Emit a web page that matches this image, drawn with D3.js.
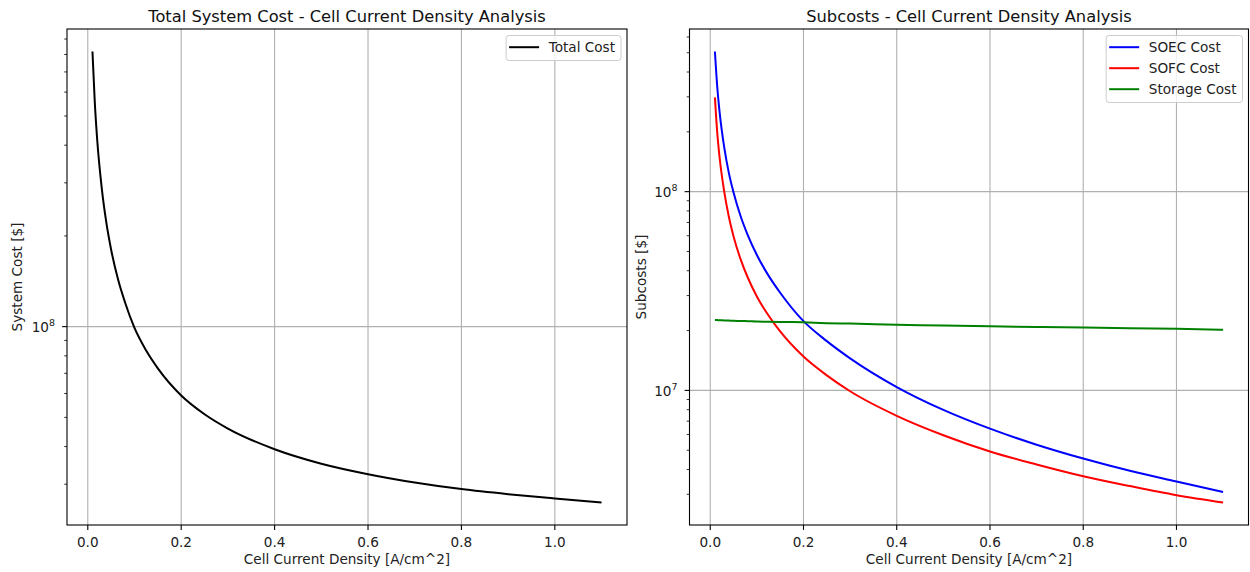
<!DOCTYPE html>
<html>
<head>
<meta charset="utf-8">
<script src="https://cdn.jsdelivr.net/npm/d3@7"></script>
<style>
  html, body { margin: 0; padding: 0; background: #fff; }
  svg { display: block; font-family: "DejaVu Sans", sans-serif; }
</style>
</head>
<body>
<svg id="fig" width="1250" height="572"></svg>
<script>
// Cell current density samples [A/cm^2]
const currentDensity = [0.01, 0.015, 0.02, 0.03, 0.04, 0.05, 0.065, 0.08, 0.1, 0.125, 0.15,
                        0.2, 0.25, 0.3, 0.4, 0.5, 0.6, 0.7, 0.8, 0.9, 1.0, 1.1];

// Total system cost [$]
const totalCost = [8.18e8, 5.55e8, 4.2e8, 2.87e8, 2.2e8, 1.8e8, 1.43e8, 1.2e8, 9.9e7, 8.33e7, 7.27e7,
                   5.91e7, 5.12e7, 4.59e7, 3.92e7, 3.51e7, 3.24e7, 3.04e7, 2.89e7, 2.78e7, 2.69e7, 2.61e7];

// Subcosts [$]
const soecCost = [5.07e8, 3.37e8, 2.52e8, 1.67e8, 1.24e8, 9.9e7, 7.54e7, 6.08e7, 4.8e7, 3.78e7, 3.1e7,
                  2.23e7, 1.77e7, 1.45e7, 1.04e7, 7.98e6, 6.42e6, 5.33e6, 4.54e6, 3.94e6, 3.48e6, 3.08e6];
const sofcCost = [2.98e8, 1.98e8, 1.49e8, 1.0e8, 7.45e7, 5.95e7, 4.58e7, 3.72e7, 2.97e7, 2.38e7, 1.98e7,
                  1.48e7, 1.19e7, 9.9e6, 7.45e6, 5.95e6, 4.93e6, 4.24e6, 3.7e6, 3.3e6, 2.97e6, 2.73e6];
const storageCost = [2.26e7, 2.258e7, 2.256e7, 2.25e7, 2.245e7, 2.24e7, 2.235e7, 2.23e7, 2.22e7, 2.215e7, 2.21e7,
                     2.2e7, 2.18e7, 2.17e7, 2.14e7, 2.12e7, 2.1e7, 2.085e7, 2.07e7, 2.055e7, 2.04e7, 2.02e7];

const xTickValues = [0.0, 0.2, 0.4, 0.6, 0.8, 1.0];

const FONT = 13.6;
const TITLE_FONT = 16.3;
const GRID = "#b0b0b0";

const svg = d3.select("#fig");
svg.append("rect").attr("width", 1250).attr("height", 572).attr("fill", "#fff");

// Padded domain in the style of matplotlib autoscaling (5% margins)
function padLinear(vals) {
  const [lo, hi] = d3.extent(vals);
  const m = (hi - lo) * 0.05;
  return [lo - m, hi + m];
}
function padLog(vals) {
  const lo = Math.log10(d3.min(vals)), hi = Math.log10(d3.max(vals));
  const m = (hi - lo) * 0.05;
  return [Math.pow(10, lo - m), Math.pow(10, hi + m)];
}

function drawPanel(cfg) {
  const { left, right, top, bottom, series, title, ylabel } = cfg;
  const g = svg.append("g");

  const x = d3.scaleLinear().domain(padLinear(currentDensity)).range([left, right]);
  const allY = series.flatMap(s => s.values);
  const y = d3.scaleLog().domain(padLog(allY)).range([bottom, top]);

  const [y0, y1] = y.domain();
  const majors = [], minors = [];
  for (let e = Math.floor(Math.log10(y0)); e <= Math.ceil(Math.log10(y1)); e++) {
    for (let k = 1; k <= 9; k++) {
      const v = k * Math.pow(10, e);
      if (v < y0 || v > y1) continue;
      (k === 1 ? majors : minors).push({ v, e });
    }
  }

  // grid
  const grid = g.append("g").attr("stroke", GRID).attr("stroke-width", 1.1);
  xTickValues.forEach(t => {
    grid.append("line").attr("x1", x(t)).attr("x2", x(t)).attr("y1", top).attr("y2", bottom);
  });
  majors.forEach(t => {
    grid.append("line").attr("x1", left).attr("x2", right).attr("y1", y(t.v)).attr("y2", y(t.v));
  });

  // series lines
  const line = d3.line()
    .x((d, i) => x(currentDensity[i]))
    .y(d => y(d))
    .curve(d3.curveMonotoneX);
  series.forEach(s => {
    g.append("path").datum(s.values)
      .attr("d", line)
      .attr("fill", "none")
      .attr("stroke", s.color)
      .attr("stroke-width", 2.0)
      .attr("stroke-linejoin", "round")
      .attr("stroke-linecap", "butt");
  });

  // frame
  g.append("rect").attr("x", left).attr("y", top)
    .attr("width", right - left).attr("height", bottom - top)
    .attr("fill", "none").attr("stroke", "#000").attr("stroke-width", 1.1);

  // x ticks
  const xt = g.append("g");
  xTickValues.forEach(t => {
    xt.append("line").attr("x1", x(t)).attr("x2", x(t)).attr("y1", bottom).attr("y2", bottom + 4.9)
      .attr("stroke", "#000").attr("stroke-width", 1.1);
    xt.append("text").attr("x", x(t)).attr("y", bottom + 22)
      .attr("text-anchor", "middle").attr("font-size", FONT).attr("fill", "#222")
      .text(d3.format(".1f")(t));
  });

  // y ticks
  const yt = g.append("g");
  minors.forEach(t => {
    yt.append("line").attr("x1", left - 2.8).attr("x2", left).attr("y1", y(t.v)).attr("y2", y(t.v))
      .attr("stroke", "#000").attr("stroke-width", 0.8);
  });
  majors.forEach(t => {
    yt.append("line").attr("x1", left - 4.9).attr("x2", left).attr("y1", y(t.v)).attr("y2", y(t.v))
      .attr("stroke", "#000").attr("stroke-width", 1.1);
    const lab = yt.append("text").attr("x", left - 12).attr("y", y(t.v) + 5.5)
      .attr("text-anchor", "end").attr("font-size", FONT).attr("fill", "#222");
    lab.append("tspan").text("10");
    lab.append("tspan").attr("font-size", 9.5).attr("dy", -6).text(String(t.e));
  });

  // labels
  g.append("text").attr("x", (left + right) / 2).attr("y", 21.5)
    .attr("text-anchor", "middle").attr("font-size", TITLE_FONT).attr("fill", "#111").text(title);
  g.append("text").attr("x", (left + right) / 2).attr("y", 564)
    .attr("text-anchor", "middle").attr("font-size", FONT).attr("fill", "#222")
    .text("Cell Current Density [A/cm^2]");
  g.append("text")
    .attr("transform", `translate(${cfg.ylabelX},${(top + bottom) / 2}) rotate(-90)`)
    .attr("text-anchor", "middle").attr("font-size", FONT).attr("fill", "#222").text(ylabel);

  // legend
  const lg = g.append("g");
  const box = lg.append("rect").attr("fill", "#fff").attr("fill-opacity", 0.8)
    .attr("stroke", "#cccccc").attr("stroke-width", 1).attr("rx", 3);
  let maxW = 0;
  const rowH = 21;
  const texts = series.map((s, i) => {
    const t = lg.append("text").attr("font-size", FONT).attr("fill", "#222")
      .attr("y", 12 + i * rowH + 5).text(s.name);
    maxW = Math.max(maxW, t.node().getComputedTextLength());
    return t;
  });
  const w = 42.6 + maxW + 6;
  const h = 25 + rowH * (series.length - 1);
  const bx = right - 6 - w, by = top + 6.5;
  box.attr("x", bx).attr("y", by).attr("width", w).attr("height", h);
  series.forEach((s, i) => {
    const cy = by + 11.7 + i * rowH;
    lg.append("line").attr("x1", bx + 3).attr("x2", bx + 33).attr("y1", cy).attr("y2", cy)
      .attr("stroke", s.color).attr("stroke-width", 2.0);
    texts[i].attr("x", bx + 42.6).attr("y", cy + 5);
  });
}

drawPanel({
  left: 67, right: 627, top: 29, bottom: 525,
  title: "Total System Cost - Cell Current Density Analysis",
  ylabel: "System Cost [$]", ylabelX: 22,
  series: [{ name: "Total Cost", values: totalCost, color: "#000000" }]
});

drawPanel({
  left: 689.5, right: 1248.5, top: 29, bottom: 525,
  title: "Subcosts - Cell Current Density Analysis",
  ylabel: "Subcosts [$]", ylabelX: 646,
  series: [
    { name: "SOEC Cost", values: soecCost, color: "#0000ff" },
    { name: "SOFC Cost", values: sofcCost, color: "#ff0000" },
    { name: "Storage Cost", values: storageCost, color: "#008000" }
  ]
});
</script>
</body>
</html>
